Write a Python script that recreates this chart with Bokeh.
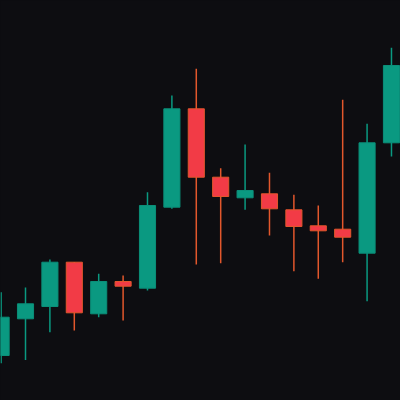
from bokeh.plotting import figure
from bokeh.models import Range1d, ColumnDataSource
from bokeh.embed import file_html
from bokeh.resources import INLINE

# OHLC values (arbitrary price units)
opens  = [104.50, 108.17, 109.40, 113.83, 108.67, 111.90, 111.23, 119.33, 129.17,
          122.33, 120.27, 120.67, 119.07, 117.47, 117.13, 114.73, 125.77]
closes = [108.33, 109.67, 113.83, 108.77, 111.90, 111.43, 119.50, 129.17, 122.33,
          120.40, 121.00, 119.17, 117.40, 116.97, 116.33, 125.77, 133.50]
highs  = [110.83, 111.30, 114.10, 113.85, 112.67, 112.50, 120.83, 130.50, 133.17,
          123.23, 125.60, 122.77, 120.57, 119.50, 130.07, 127.67, 135.27]
lows   = [103.73, 104.05, 106.83, 107.00, 108.33, 108.00, 111.00, 119.17, 113.60,
          113.73, 119.07, 116.50, 112.93, 112.17, 113.83, 109.93, 124.40]

BG = "#0d0d11"
UP = "#0a9981"
UP_LINE = "#0b8f79"
DOWN = "#f23b46"
DOWN_LINE = "#e2572c"

idx = list(range(len(opens)))
up = [c >= o for o, c in zip(opens, closes)]
src = ColumnDataSource(dict(
    x=idx,
    top=[max(o, c) for o, c in zip(opens, closes)],
    bottom=[min(o, c) for o, c in zip(opens, closes)],
    high=highs,
    low=lows,
    fill=[UP if u else DOWN for u in up],
    line=[UP_LINE if u else DOWN_LINE for u in up],
    wick=[UP if u else DOWN_LINE for u in up],
))

p = figure(width=400, height=400, output_backend="svg", toolbar_location=None,
           x_range=Range1d(-0.025, 16.37), y_range=Range1d(100, 140),
           background_fill_color=BG, border_fill_color=BG, min_border=0)
p.axis.visible = False
p.grid.visible = False
p.outline_line_color = None

p.segment(x0="x", x1="x", y0="low", y1="high", source=src, line_color="wick", line_width=1.5)
p.vbar(x="x", width=0.66, top="top", bottom="bottom", source=src,
       fill_color="fill", line_color="line", line_width=1)

html = file_html(p, INLINE)
html = html.replace("<head>", "<head><style>html,body{margin:0;padding:0;background:%s;overflow:hidden}</style>" % BG, 1)
open("out.html", "w").write(html)
